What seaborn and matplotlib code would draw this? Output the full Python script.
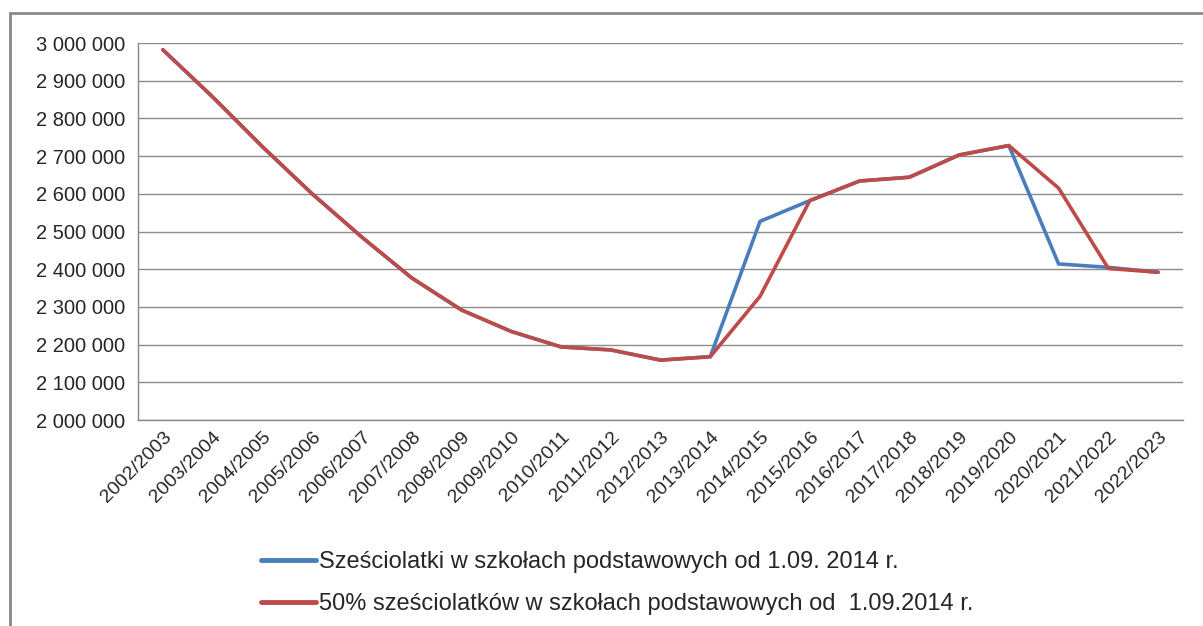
import numpy as np
import pandas as pd
import matplotlib
matplotlib.use("Agg")
import matplotlib.pyplot as plt
import seaborn as sns
from matplotlib.patches import Rectangle
from matplotlib.ticker import FuncFormatter, FixedLocator

# school years and pupil counts
years = ["2002/2003", "2003/2004", "2004/2005", "2005/2006", "2006/2007", "2007/2008",
         "2008/2009", "2009/2010", "2010/2011", "2011/2012", "2012/2013", "2013/2014",
         "2014/2015", "2015/2016", "2016/2017", "2017/2018", "2018/2019", "2019/2020",
         "2020/2021", "2021/2022", "2022/2023"]
all_six = [2982000, 2857000, 2725000, 2600000, 2485000, 2377000, 2292000, 2235000,
           2194000, 2186000, 2159000, 2168000, 2527000, 2582000, 2634000, 2644000,
           2703000, 2728000, 2414000, 2405000, 2392000]
half_six = [2982000, 2857000, 2725000, 2600000, 2485000, 2377000, 2292000, 2235000,
            2194000, 2186000, 2159000, 2168000, 2328000, 2582000, 2634000, 2644000,
            2703000, 2728000, 2615000, 2402000, 2392000]
labels = ["Sześciolatki w szkołach podstawowych od 1.09. 2014 r.",
          "50% sześciolatków w szkołach podstawowych od  1.09.2014 r."]
colors = ["#4A7EBB", "#BE4B48"]

df = pd.DataFrame({
    "idx": list(range(len(years))) * 2,
    "value": all_six + half_six,
    "series": [labels[0]] * len(years) + [labels[1]] * len(years),
})

sns.set_style("white")
plt.rcParams["font.family"] = ["Liberation Sans", "DejaVu Sans"]

fig = plt.figure(figsize=(12.03, 6.26), dpi=100)
ax = fig.add_axes([0.1147, 0.329, 0.9834 - 0.1147, 0.9313 - 0.329])

sns.lineplot(data=df, x="idx", y="value", hue="series", hue_order=labels,
             palette=colors, linewidth=2.6, sort=False, ax=ax, legend=False)

ax.set_xlim(-0.5, len(years) - 0.5)
ax.set_ylim(2000000, 3000000)
ax.yaxis.set_major_locator(FixedLocator(np.arange(2000000, 3000001, 100000)))
ax.yaxis.set_major_formatter(FuncFormatter(lambda v, p: f"{int(v):,}".replace(",", " ")))
ax.set_xticks(range(len(years)))
ax.set_xticklabels(years, rotation=45, ha="right", rotation_mode="anchor")
ax.set_xticks(np.arange(-0.5, len(years)), minor=True)
ax.tick_params(axis="x", which="major", length=0, pad=6, labelsize=14)
ax.tick_params(axis="x", which="minor", length=6, width=1, color="#888888", direction="out")
ax.tick_params(axis="y", length=6, width=1, color="#888888", direction="out", pad=3, labelsize=14.5)
ax.set_xlabel("")
ax.set_ylabel("")
ax.grid(axis="y", color="#8c8c8c", linewidth=1)
ax.set_axisbelow(True)
for s in ["top", "right"]:
    ax.spines[s].set_visible(False)
for s in ["left", "bottom"]:
    ax.spines[s].set_color("#888888")
    ax.spines[s].set_linewidth(1)

# outer chart frame
fig.patches.append(Rectangle((10 / 1203, -0.05), 1.1, (626 - 13) / 626 + 0.05,
                             transform=fig.transFigure, fill=False,
                             edgecolor="#888888", linewidth=2, clip_on=False))

handles = [plt.Line2D([], [], color=c, linewidth=3.5) for c in colors]
fig.legend(handles, labels, loc="upper left", bbox_to_anchor=(240 / 1203, 1 - 530 / 626),
           frameon=False, handlelength=2.3, handletextpad=0.15, labelspacing=0.85,
           prop={"size": 17})

fig.savefig("out.png", dpi=100)
